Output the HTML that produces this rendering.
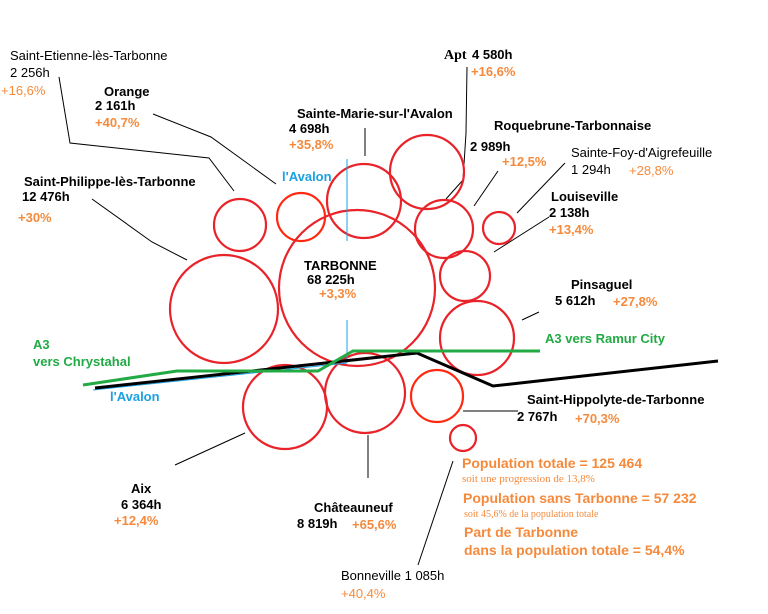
<!DOCTYPE html>
<html><head><meta charset="utf-8"><style>
html,body{margin:0;padding:0;background:#fff;}
svg{display:block;}
text{font-family:"Liberation Sans","DejaVu Sans",sans-serif;font-size:13px;}
.b{font-weight:bold;fill:#000;}
.n{fill:#000;}
.o{fill:#f58a3c;font-weight:bold;}
.on{fill:#f58a3c;}
</style></head><body>
<svg width="768" height="614" viewBox="0 0 768 614" xmlns="http://www.w3.org/2000/svg">
<rect width="768" height="614" fill="#fff"/>
<g stroke="#000" stroke-width="1" fill="none">
<polyline points="59,77 70,143 209,158 234,191"/>
<polyline points="153,114 211,137 276,184"/>
<polyline points="92,199 152,242 187,260"/>
<line x1="365" y1="128" x2="365" y2="156"/>
<polyline points="467,67 466,133 463,180 446,199"/>
<polyline points="498,171 474,206"/>
<polyline points="565,163 517,213"/>
<polyline points="549,217 494,252"/>
<line x1="522" y1="320" x2="539" y2="312"/>
<polyline points="463,411 518,411"/>
<line x1="175" y1="465" x2="245" y2="433"/>
<line x1="368" y1="435" x2="368" y2="478"/>
<line x1="453" y1="461" x2="418" y2="565"/>
</g>
<g fill="none" stroke="#e8232a" stroke-width="2.2">
<circle cx="240" cy="225" r="26"/>
<circle cx="301" cy="217" r="24" stroke="#ff2a10"/>
<circle cx="364" cy="201" r="37"/>
<circle cx="427" cy="172" r="37"/>
<circle cx="444" cy="229" r="29"/>
<circle cx="499" cy="228" r="16"/>
<circle cx="465" cy="276" r="25"/>
<circle cx="357" cy="288" r="78"/>
<circle cx="224" cy="309" r="54"/>
<circle cx="477" cy="338" r="37"/>
<circle cx="285" cy="407" r="42"/>
<circle cx="365" cy="393" r="40"/>
<circle cx="437" cy="396" r="26" stroke="#ff2a10"/>
<circle cx="463" cy="438" r="13"/>
</g>
<g fill="none">
<line x1="347" y1="159" x2="347" y2="241" stroke="#1ba1e2" stroke-width="1"/>
<line x1="347" y1="320" x2="347" y2="363" stroke="#1ba1e2" stroke-width="1"/>
<line x1="93" y1="390" x2="347" y2="363" stroke="#1ba1e2" stroke-width="1"/>
<polyline points="95,388 417,353 493,386 718,361" stroke="#000" stroke-width="3"/>
<polyline points="83,385 177,371 318,371 353,351 540,351" stroke="#22aa44" stroke-width="3"/>
</g>
<text x="10" y="60" class="n">Saint-Etienne-lès-Tarbonne</text>
<text x="10" y="77" class="n">2 256h</text>
<text x="1" y="95" class="on">+16,6%</text>
<text x="104" y="96" class="b">Orange</text>
<text x="95" y="110" class="b">2 161h</text>
<text x="95" y="127" class="o">+40,7%</text>
<text x="297" y="118" class="b">Sainte-Marie-sur-l'Avalon</text>
<text x="289" y="133" class="b">4 698h</text>
<text x="289" y="149" class="o">+35,8%</text>
<text x="24" y="186" class="b">Saint-Philippe-lès-Tarbonne</text>
<text x="22" y="201" class="b">12 476h</text>
<text x="18" y="222" class="o">+30%</text>
<text x="282" y="181" style="fill:#1ba1e2;font-weight:bold">l'Avalon</text>
<text x="444" y="59" style="font-family:'Liberation Serif',serif;font-weight:bold;font-size:14px">Apt</text>
<text x="472" y="59" class="b">4 580h</text>
<text x="471" y="76" class="o">+16,6%</text>
<text x="494" y="130" class="b">Roquebrune-Tarbonnaise</text>
<text x="470" y="151" class="b">2 989h</text>
<text x="502" y="166" class="o">+12,5%</text>
<text x="571" y="157" class="n">Sainte-Foy-d'Aigrefeuille</text>
<text x="571" y="174" class="n">1 294h</text>
<text x="629" y="175" class="on">+28,8%</text>
<text x="551" y="201" class="b">Louiseville</text>
<text x="549" y="217" class="b">2 138h</text>
<text x="549" y="234" class="o">+13,4%</text>
<text x="304" y="270" class="b">TARBONNE</text>
<text x="307" y="284" class="b">68 225h</text>
<text x="319" y="298" class="o">+3,3%</text>
<text x="571" y="289" class="b">Pinsaguel</text>
<text x="555" y="305" class="b">5 612h</text>
<text x="613" y="306" class="o">+27,8%</text>
<text x="545" y="343" style="fill:#22aa44;font-weight:bold">A3 vers Ramur City</text>
<text x="33" y="349" style="fill:#22aa44;font-weight:bold">A3</text>
<text x="33" y="366" style="fill:#22aa44;font-weight:bold">vers Chrystahal</text>
<text x="110" y="401" style="fill:#1ba1e2;font-weight:bold">l'Avalon</text>
<text x="527" y="404" class="b">Saint-Hippolyte-de-Tarbonne</text>
<text x="517" y="421" class="b">2 767h</text>
<text x="575" y="423" class="o">+70,3%</text>
<text x="131" y="493" class="b">Aix</text>
<text x="121" y="509" class="b">6 364h</text>
<text x="114" y="525" class="o">+12,4%</text>
<text x="314" y="512" class="b">Châteauneuf</text>
<text x="297" y="528" class="b">8 819h</text>
<text x="352" y="529" class="o">+65,6%</text>
<text x="341" y="580" class="n">Bonneville 1 085h</text>
<text x="341" y="598" class="on">+40,4%</text>
<text x="462" y="468" class="o" style="font-size:14px">Population totale =  125 464</text>
<text x="462" y="482" class="on" style="font-family:'Liberation Serif',serif;font-size:11px">soit une progression de 13,8%</text>
<text x="463" y="503" class="o" style="font-size:14px">Population sans Tarbonne = 57 232</text>
<text x="464" y="517" class="on" style="font-family:'Liberation Serif',serif;font-size:10px">soit 45,6% de la population totale</text>
<text x="464" y="537" class="o" style="font-size:14px">Part de Tarbonne</text>
<text x="464" y="555" class="o" style="font-size:14px">dans la population totale =  54,4%</text>
</svg>
</body></html>
